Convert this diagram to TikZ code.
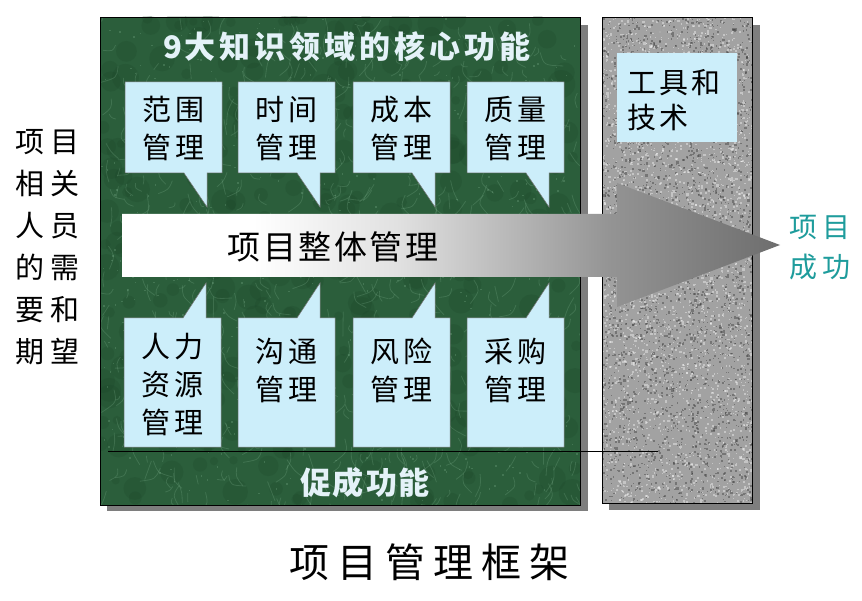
\documentclass[tikz,border=0pt]{standalone}
\usepackage{fontspec}
\newfontfamily\cjk{Noto Sans CJK SC}
\definecolor{greenbase}{HTML}{2B5E3B}
\definecolor{greendark}{HTML}{173E24}
\definecolor{greenlight}{HTML}{8CC09C}
\definecolor{calloutfill}{HTML}{CCEEFA}
\definecolor{titlecol}{HTML}{E4F2F8}
\definecolor{tealcol}{HTML}{1E9C9C}
\definecolor{shadowcol}{HTML}{7E7E7E}
\definecolor{granite}{HTML}{A2A2A2}
\pgfdeclarehorizontalshading{arrowshade}{100bp}{color(0bp)=(white); color(25bp)=(white); color(35bp)=(white); color(46bp)=(black!12); color(62bp)=(black!42); color(75bp)=(black!57); color(100bp)=(black!57)}
\newcommand{\g}[1][4pt]{\hspace{#1}}
\tikzset{
  callout/.style={fill=calloutfill, draw=black!55, line width=0.5pt},
  panel/.style={draw=black, line width=0.6pt},
  cotext/.style={font=\cjk\fontsize{29}{38}\selectfont, align=center, inner sep=0pt},
  paneltitle/.style={font=\cjk\bfseries\fontsize{31}{36}\selectfont, text=titlecol, inner sep=0pt},
}
\begin{document}
\begin{tikzpicture}[x=1pt,y=-1pt]
\useasboundingbox (0,0) rectangle (862,601);
\fill[white] (0,0) rectangle (862,601);
% shadows
\fill[shadowcol] (107,25) rectangle (588,511);
\fill[shadowcol] (609,25) rectangle (760,510);
% green panel texture
\pgfmathsetseed{11}
\begin{scope}
\clip (100,17) rectangle (580,505);
\fill[greenbase] (100,17) rectangle (580,505);
\foreach \i in {1,...,350}{
  \pgfmathsetmacro\px{100+480*rnd}
  \pgfmathsetmacro\py{17+488*rnd}
  \pgfmathsetmacro\pr{4+10*rnd}
  \fill[greendark, opacity=0.18] (\px,\py) circle[radius=\pr];
}
\foreach \i in {1,...,700}{
  \pgfmathsetmacro\px{100+480*rnd}
  \pgfmathsetmacro\py{17+488*rnd}
  \pgfmathsetmacro\pa{90+35*rand}
  \pgfmathsetmacro\pl{6+22*rnd}
  \pgfmathsetmacro\pb{\pa+50*rand}
  \draw[greenlight, opacity=0.22, line width=0.8pt] (\px,\py) .. controls +(\pa:\pl/2) .. +(\pb:\pl);
}
\foreach \i in {1,...,500}{
  \pgfmathsetmacro\px{100+480*rnd}
  \pgfmathsetmacro\py{17+488*rnd}
  \fill[greenlight, opacity=0.25] (\px,\py) rectangle +(1.5,1.5);
}
\end{scope}
\draw[panel] (100,17) rectangle (580,505);
% granite panel texture
\begin{scope}
\clip (602,17) rectangle (752,503);
\fill[granite] (602,17) rectangle (752,503);
\foreach \i in {1,...,2600}{
  \pgfmathsetmacro\px{602+150*rnd}
  \pgfmathsetmacro\py{17+486*rnd}
  \pgfmathsetmacro\ps{0.8+1.6*rnd}
  \fill[black!75, opacity=0.45] (\px,\py) rectangle +(\ps,\ps);
}
\foreach \i in {1,...,2600}{
  \pgfmathsetmacro\px{602+150*rnd}
  \pgfmathsetmacro\py{17+486*rnd}
  \pgfmathsetmacro\ps{0.8+1.6*rnd}
  \fill[white, opacity=0.38] (\px,\py) rectangle +(\ps,\ps);
}
\end{scope}
\draw[panel] (602,17) rectangle (752,503);
% separator line
\coordinate (sepL) at (108,451);
\coordinate (sepR) at (658,451);
\draw[black, line width=0.6pt] (sepL) -- (sepR);
% title
\node[paneltitle] (title) at (347,47) {9\g[3pt]大\g 知\g 识\g 领\g 域\g 的\g 核\g 心\g 功\g 能};
\node[paneltitle] (enable) at (365,483) {促\g[2pt]成\g[2pt]功\g[2pt]能};
% top callouts
\foreach \L/\nm/\t in {125/c1/{范\g 围\\管\g 理}, 238/c2/{时\g 间\\管\g 理}, 353/c3/{成\g 本\\管\g 理}, 467/c4/{质\g 量\\管\g 理}}{
  \draw[callout] (\L,82) -- (\L+97,82) -- (\L+97,173) -- (\L+82,173) -- (\L+82,207) -- (\L+59,173) -- (\L,173) -- cycle;
  \node[cotext] (\nm) at (\L+48.5,128.5) {\t};
}
% bottom callouts
\foreach \L/\nm/\yc/\t in {124/d1/385/{人\g 力\\资\g 源\\管\g 理}, 238/d2/370/{沟\g 通\\管\g 理}, 353/d3/370/{风\g 险\\管\g 理}, 467/d4/370/{采\g 购\\管\g 理}}{
  \draw[callout] (\L,318) -- (\L+59,318) -- (\L+82,283) -- (\L+82,318) -- (\L+97,318) -- (\L+97,447) -- (\L,447) -- cycle;
  \node[cotext] (\nm) at (\L+48.5,\yc) {\t};
}
% big arrow
\shade[shading=arrowshade] (122,214) -- (617,214) -- (617,183) -- (780,245) -- (617,307) -- (617,277) -- (122,277) -- cycle;
\node[font=\cjk\fontsize{33}{36}\selectfont, inner sep=0pt] (integ) at (333,247) {项\g[2.5pt]目\g[2.5pt]整\g[2.5pt]体\g[2.5pt]管\g[2.5pt]理};
% tools box
\fill[calloutfill] (617,53) rectangle (737,142);
\node[font=\cjk\fontsize{29}{35}\selectfont, align=left, anchor=west, inner sep=0pt] (tools) at (627,100.5) {工\g[3pt]具\g[3pt]和\\技\g[3pt]术};
% left text
\node[font=\cjk\fontsize{29}{42}\selectfont, align=left, inner sep=0pt] (stake) at (47.5,247) {项\g[7pt]目\\相\g[7pt]关\\人\g[7pt]员\\的\g[7pt]需\\要\g[7pt]和\\期\g[7pt]望};
% success
\node[font=\cjk\fontsize{28}{40}\selectfont, text=tealcol, align=left, inner sep=0pt] (success) at (820,248) {项\g[5pt]目\\成\g[5pt]功};
% caption
\node[font=\cjk\fontsize{40}{44}\selectfont, inner sep=0pt] (caption) at (429,562) {项\g[8pt]目\g[8pt]管\g[8pt]理\g[8pt]框\g[8pt]架};
\end{tikzpicture}
\end{document}
